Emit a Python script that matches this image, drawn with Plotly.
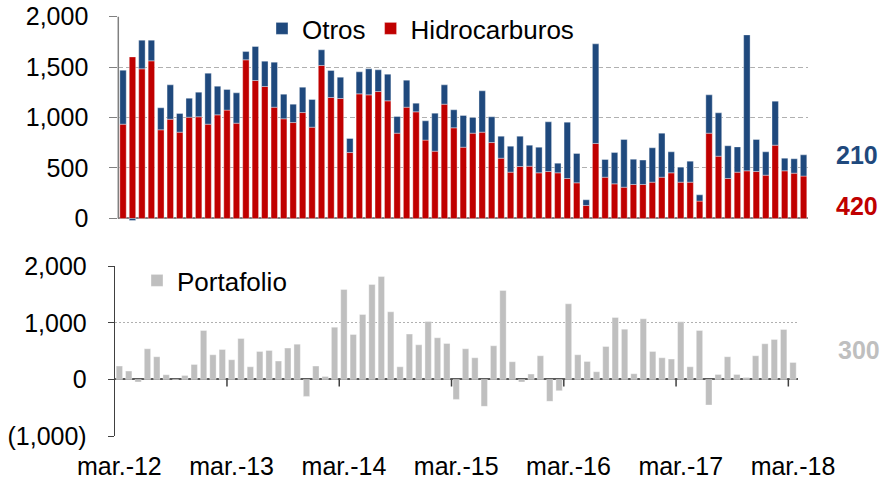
import plotly.graph_objects as go

W, H = 885, 483

# ---------------- data ----------------
month_abbr = ["ene.", "feb.", "mar.", "abr.", "may.", "jun.", "jul.", "ago.", "sep.", "oct.", "nov.", "dic."]
categories = []
for k in range(73):
    m = (2 + k) % 12
    y = 12 + (2 + k) // 12
    categories.append(f"{month_abbr[m]}-{y:02d}")

hidrocarburos = [934, 1600, 1482, 1561, 878, 983, 855, 1003, 1007, 934, 1026, 1073, 944,
                 1571, 1366, 1307, 1102, 987, 950, 1049, 904, 1515, 1198, 1188, 653,
                 1234, 1224, 1257, 1165, 845, 1102, 1056, 776, 667, 1132, 898, 706, 845,
                 855, 752, 597, 459, 515, 518, 452, 465, 452, 396, 353, 129, 743,
                 409, 343, 310, 337, 337, 360, 409, 452, 360, 360, 172, 845, 617,
                 396, 459, 472, 465, 429, 726, 472, 449, 420]
otros = [534, -20, 284, 205, 218, 340, 185, 188, 244, 505, 284, 204, 300,
         82, 337, 251, 446, 244, 182, 251, 274, 155, 267, 211, 139,
         218, 258, 215, 264, 165, 268, 86, 191, 376, 191, 178, 314, 155,
         409, 255, 218, 257, 300, 208, 254, 492, 96, 558, 291, 56, 986,
         175, 310, 472, 250, 241, 340, 436, 208, 148, 208, 62, 379, 429,
         324, 250, 1346, 317, 231, 436, 125, 142, 210]
portafolio = [235, 147, -47, 541, 400, 82, 0, 70, 265, 864, 435, 529, 347, 723, 223, 494, 512, 323, 553,
              623, -300, 235, 53, 923, 1588, 794, 1147, 1676, 1817, 1194, 223, 800, 611, 1023, 735, 635, -353,
              541, 382, -476, 594, 1570, 312, -47, 94, 417, -388, -200, 1335, 435, 318, 135, 582, 1094, 888,
              100, 1070, 494, 382, 359, 1017, 223, 864, -453, 88, 400, 88, 35, 417, 629, 706, 882, 300]

top_ticks = [0, 500, 1000, 1500, 2000]
top_ticktext = ["0", "500", "1,000", "1,500", "2,000"]
bot_ticks = [-1000, 0, 1000, 2000]
bot_ticktext = ["(1,000)", "0", "1,000", "2,000"]
xlabel_idx = [0, 12, 24, 36, 48, 60, 72]

BLUE = "#1F497D"
RED = "#C00000"
GREY = "#BFBFBF"
FONT = "Liberation Sans, Arial, sans-serif"
FS = 25
LFS = 26

def px_x(p):
    return p / W

def px_y(p):
    return 1 - p / H

fig = go.Figure()

fig.add_trace(go.Bar(x=categories, y=hidrocarburos, name="Hidrocarburos",
                     marker=dict(color=RED, line=dict(color="rgba(255,255,255,0.45)", width=0.8)),
                     xaxis="x", yaxis="y", legend="legend"))
fig.add_trace(go.Bar(x=categories, y=otros, name="Otros",
                     marker=dict(color=BLUE, line=dict(color="rgba(255,255,255,0.45)", width=0.8)),
                     xaxis="x", yaxis="y", legend="legend"))
fig.add_trace(go.Bar(x=categories, y=portafolio, name="Portafolio",
                     marker=dict(color=GREY, line=dict(color="rgba(255,255,255,0.45)", width=0.8)),
                     xaxis="x2", yaxis="y2", legend="legend2"))

top_range = [-30, 2000]
top_y0 = 218.5 + 30 * (201.5 / 2000)
fig.update_layout(
    xaxis=dict(domain=[px_x(118.3), px_x(808.3)], range=[-0.5, 72.5], type="category",
               showticklabels=False, ticks="", showgrid=False, showline=False, zeroline=False,
               anchor="y", automargin=False),
    yaxis=dict(domain=[px_y(top_y0), px_y(16.5)], range=top_range, tickvals=top_ticks,
               ticktext=top_ticktext, ticks="outside", ticklen=8, tickcolor="#808080",
               showline=False, showgrid=True, gridcolor="#B0B0B0", griddash="5px,3px", gridwidth=1,
               zeroline=True, zerolinecolor="#808080", zerolinewidth=2,
               tickfont=dict(family=FONT, size=FS, color="#000"), ticklabelstandoff=16,
               anchor="x", automargin=False),
    xaxis2=dict(domain=[px_x(114.7), px_x(797.7)], range=[-0.5, 72.5], type="category",
                tickvals=[categories[i] for i in xlabel_idx],
                ticktext=[categories[i] for i in xlabel_idx],
                ticks="", showgrid=False, showline=False, zeroline=False,
                tickfont=dict(family=FONT, size=FS, color="#000"), ticklabelstandoff=13,
                anchor="y2", automargin=False),
    yaxis2=dict(domain=[px_y(436), px_y(266.2)], range=[-1000, 2000], tickvals=bot_ticks,
                ticktext=bot_ticktext, ticks="outside", ticklen=6, tickcolor="#404040",
                showline=True, linecolor="#404040", linewidth=1,
                showgrid=True, gridcolor="#B0B0B0", griddash="2px,2px", gridwidth=1,
                zeroline=True, zerolinecolor="#595959", zerolinewidth=2,
                tickfont=dict(family=FONT, size=FS, color="#000"), ticklabelstandoff=16,
                anchor="x2", automargin=False),
)

shapes = [dict(type="line", xref="x domain", yref="y", x0=0, x1=0, y0=0, y1=2000,
               line=dict(color="#808080", width=1.5))]
for b in [11.5, 23.5, 35.5, 47.5, 59.5, 71.5]:
    shapes.append(dict(type="line", xref="x2", yref="y2", x0=b, x1=b, y0=0, y1=-125,
                       line=dict(color="#404040", width=1.5)))

annotations = [
    dict(text="<b>210</b>", x=px_x(857), y=px_y(155), xref="paper", yref="paper",
         xanchor="center", yanchor="middle",
         showarrow=False, font=dict(family=FONT, size=25, color=BLUE)),
    dict(text="<b>420</b>", x=px_x(857), y=px_y(206), xref="paper", yref="paper",
         xanchor="center", yanchor="middle",
         showarrow=False, font=dict(family=FONT, size=25, color=RED)),
    dict(text="<b>300</b>", x=px_x(859), y=px_y(350), xref="paper", yref="paper",
         xanchor="center", yanchor="middle",
         showarrow=False, font=dict(family=FONT, size=25, color=GREY)),
]

fig.update_layout(
    width=W, height=H, margin=dict(l=0, r=0, t=0, b=0, autoexpand=False),
    paper_bgcolor="white", plot_bgcolor="white",
    barmode="relative", bargap=0.32,
    font=dict(family=FONT, size=FS, color="#000"),
    shapes=shapes, annotations=annotations,
    legend=dict(orientation="h", x=px_x(262), y=px_y(5), xanchor="left", yanchor="top",
                traceorder="reversed", font=dict(family=FONT, size=LFS, color="#000"),
                bgcolor="rgba(255,255,255,0)", itemwidth=30, tracegroupgap=0),
    legend2=dict(orientation="h", x=px_x(137), y=px_y(257), xanchor="left", yanchor="top",
                 font=dict(family=FONT, size=LFS, color="#000"),
                 bgcolor="rgba(255,255,255,0)", itemwidth=30),
)

fig.write_html("out.html", config={"displayModeBar": False},
               post_script="document.body.style.margin='0';document.body.style.padding='0';")
